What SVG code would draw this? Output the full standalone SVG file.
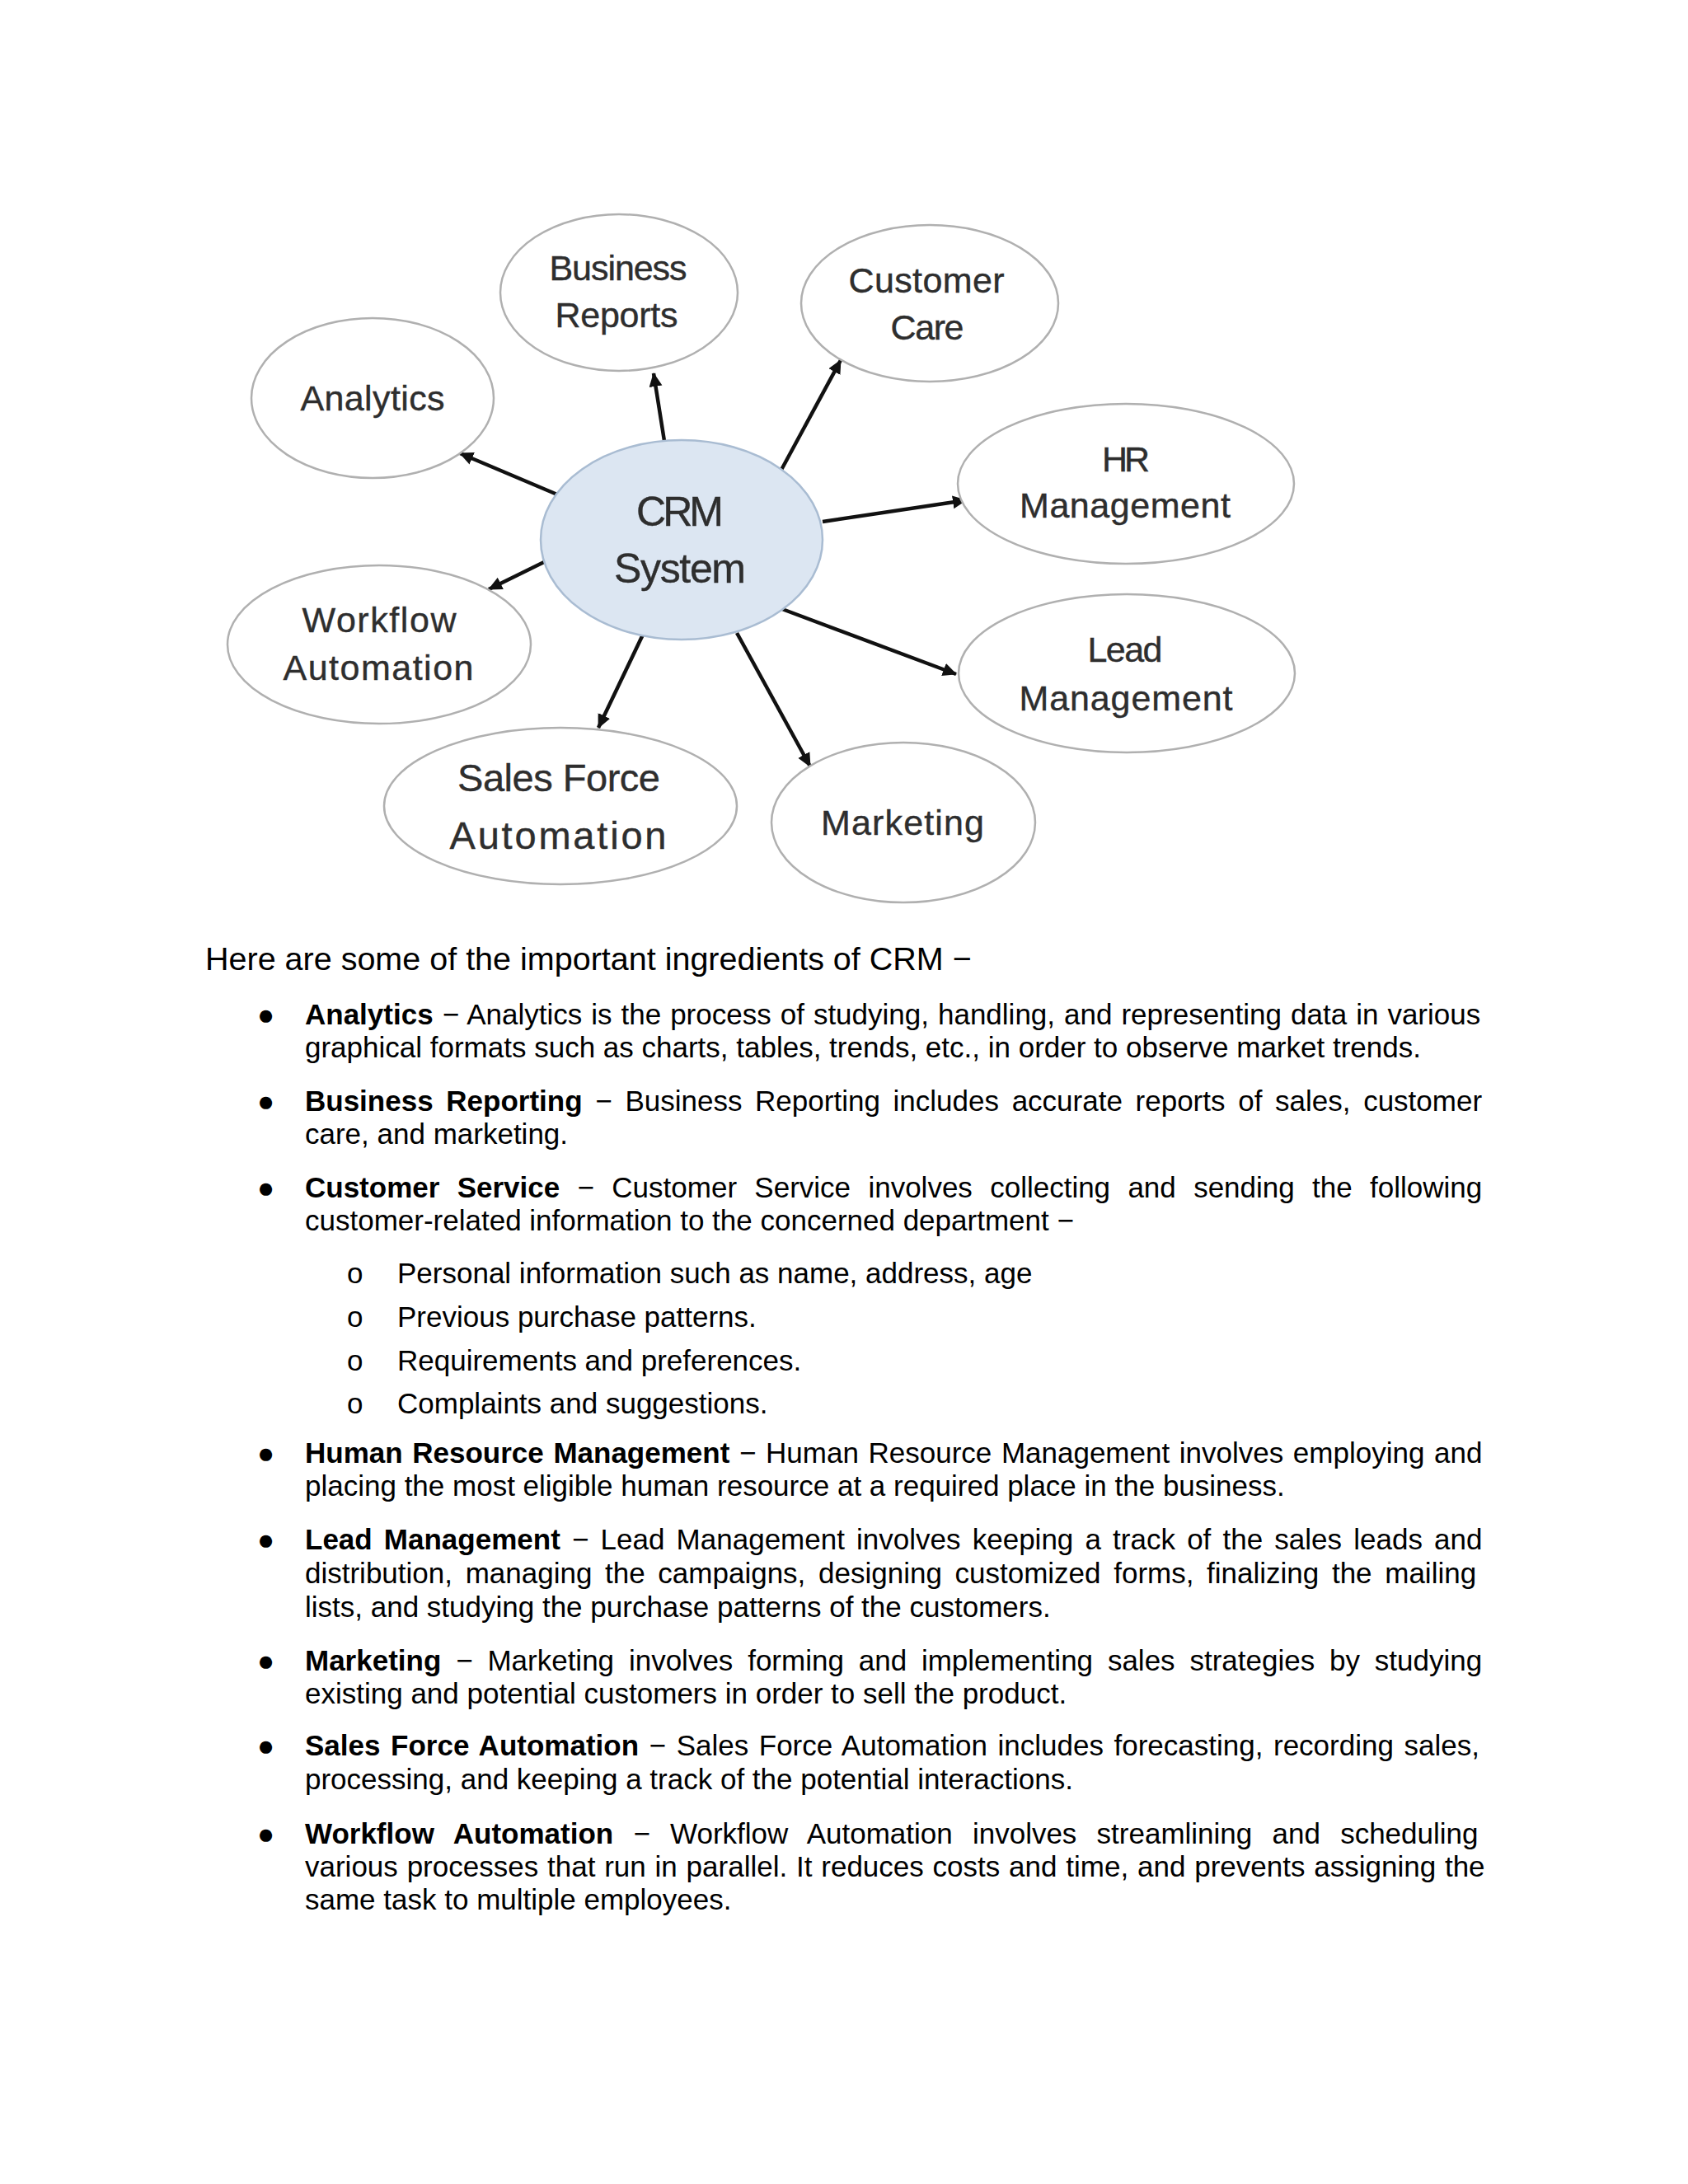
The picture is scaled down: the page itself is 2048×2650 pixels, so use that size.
<svg xmlns="http://www.w3.org/2000/svg" width="2048" height="2650" viewBox="0 0 2048 2650">
<style>
.node ellipse{fill:#ffffff;stroke:#b0b0b0;stroke-width:2.5}
.node text{font-family:"Liberation Sans",Arial,sans-serif;font-size:43px;fill:#2e2e2e;stroke:#2e2e2e;stroke-width:0.4;text-anchor:middle}
#crm ellipse{fill:#dce6f2;stroke:#a9bcd2}
#crm text{font-size:50px}
#sfa text{font-size:47px}
.conn line{stroke:#111;stroke-width:4.5;marker-end:url(#ah)}
.body{font-family:"Liberation Sans",Arial,sans-serif;font-size:35px;fill:#000}
.b{font-weight:bold}
.h{font-family:"Liberation Sans",Arial,sans-serif;font-size:39.5px;fill:#000}
</style>
<defs>
<marker id="ah" markerUnits="userSpaceOnUse" markerWidth="20" markerHeight="18" refX="16" refY="8" orient="auto">
<path d="M0,0 L17,8 L0,16 Z" fill="#111"/>
</marker>
</defs>
<rect width="2048" height="2650" fill="#ffffff"/>
<g class="conn" id="connectors">
<line x1="676" y1="600" x2="558" y2="550"/>
<line x1="806" y1="535" x2="793" y2="453"/>
<line x1="948" y1="570" x2="1020" y2="437"/>
<line x1="998" y1="633" x2="1172" y2="607"/>
<line x1="949" y1="739" x2="1160" y2="818"/>
<line x1="894" y1="768" x2="983" y2="930"/>
<line x1="780" y1="770" x2="726" y2="883"/>
<line x1="660" y1="682" x2="593" y2="715"/>
</g>
<g class="node" id="crm">
<ellipse cx="827" cy="655" rx="171" ry="121"/>
<text x="825" y="638" textLength="106">CRM</text>
<text x="825" y="707" textLength="160">System</text>
</g>
<g class="node" id="analytics">
<ellipse cx="452" cy="483" rx="147" ry="97"/>
<text x="452" y="498" textLength="175">Analytics</text>
</g>
<g class="node" id="business-reports">
<ellipse cx="751" cy="355" rx="144" ry="95"/>
<text x="750" y="340" textLength="167">Business</text>
<text x="748" y="397" textLength="149">Reports</text>
</g>
<g class="node" id="customer-care">
<ellipse cx="1128" cy="368" rx="156" ry="95"/>
<text x="1124" y="355" textLength="189">Customer</text>
<text x="1125" y="412" textLength="89">Care</text>
</g>
<g class="node" id="hr-management">
<ellipse cx="1366" cy="587" rx="204" ry="97"/>
<text x="1366" y="572" textLength="58">HR</text>
<text x="1365" y="628" textLength="256">Management</text>
</g>
<g class="node" id="lead-management">
<ellipse cx="1367" cy="817" rx="204" ry="96"/>
<text x="1365" y="803" textLength="91">Lead</text>
<text x="1366" y="862" textLength="259">Management</text>
</g>
<g class="node" id="marketing">
<ellipse cx="1096" cy="998" rx="160" ry="97"/>
<text x="1095" y="1013" textLength="198">Marketing</text>
</g>
<g class="node" id="sfa">
<ellipse cx="680" cy="978" rx="214" ry="95"/>
<text x="678" y="960" textLength="246">Sales Force</text>
<text x="677" y="1030" textLength="263">Automation</text>
</g>
<g class="node" id="workflow">
<ellipse cx="460" cy="782" rx="184" ry="96"/>
<text x="460" y="767" textLength="187">Workflow</text>
<text x="459" y="825" textLength="231">Automation</text>
</g>
<g id="text-section">
<text class="h" x="249" y="1177">Here are some of the important ingredients of CRM −</text>
<g class="body">
<text x="312" y="1243">●</text>
<text x="370" y="1243" style="word-spacing:1.28px"><tspan class="b">Analytics</tspan> − Analytics is the process of studying, handling, and representing data in various</text>
<text x="370" y="1283">graphical formats such as charts, tables, trends, etc., in order to observe market trends.</text>
<text x="312" y="1348">●</text>
<text x="370" y="1348" style="word-spacing:5.96px"><tspan class="b">Business Reporting</tspan> − Business Reporting includes accurate reports of sales, customer</text>
<text x="370" y="1388">care, and marketing.</text>
<text x="312" y="1453">●</text>
<text x="370" y="1453" style="word-spacing:11.6px"><tspan class="b">Customer Service</tspan> − Customer Service involves collecting and sending the following</text>
<text x="370" y="1493">customer-related information to the concerned department −</text>
<text x="421" y="1557">o</text>
<text x="482" y="1557">Personal information such as name, address, age</text>
<text x="421" y="1610">o</text>
<text x="482" y="1610">Previous purchase patterns.</text>
<text x="421" y="1663">o</text>
<text x="482" y="1663">Requirements and preferences.</text>
<text x="421" y="1715">o</text>
<text x="482" y="1715">Complaints and suggestions.</text>
<text x="312" y="1775">●</text>
<text x="370" y="1775" style="word-spacing:1.9px"><tspan class="b">Human Resource Management</tspan> − Human Resource Management involves employing and</text>
<text x="370" y="1815">placing the most eligible human resource at a required place in the business.</text>
<text x="312" y="1880">●</text>
<text x="370" y="1880" style="word-spacing:4.45px"><tspan class="b">Lead Management</tspan> − Lead Management involves keeping a track of the sales leads and</text>
<text x="370" y="1921" style="word-spacing:5.94px">distribution, managing the campaigns, designing customized forms, finalizing the mailing</text>
<text x="370" y="1962">lists, and studying the purchase patterns of the customers.</text>
<text x="312" y="2027">●</text>
<text x="370" y="2027" style="word-spacing:8.1px"><tspan class="b">Marketing</tspan> − Marketing involves forming and implementing sales strategies by studying</text>
<text x="370" y="2067">existing and potential customers in order to sell the product.</text>
<text x="312" y="2130">●</text>
<text x="370" y="2130" style="word-spacing:2.85px"><tspan class="b">Sales Force Automation</tspan> − Sales Force Automation includes forecasting, recording sales,</text>
<text x="370" y="2171">processing, and keeping a track of the potential interactions.</text>
<text x="312" y="2237">●</text>
<text x="370" y="2237" style="word-spacing:14.5px"><tspan class="b">Workflow Automation</tspan> − Workflow Automation involves streamlining and scheduling</text>
<text x="370" y="2277" style="word-spacing:1.09px">various processes that run in parallel. It reduces costs and time, and prevents assigning the</text>
<text x="370" y="2317">same task to multiple employees.</text>
</g>
</g>
</svg>
